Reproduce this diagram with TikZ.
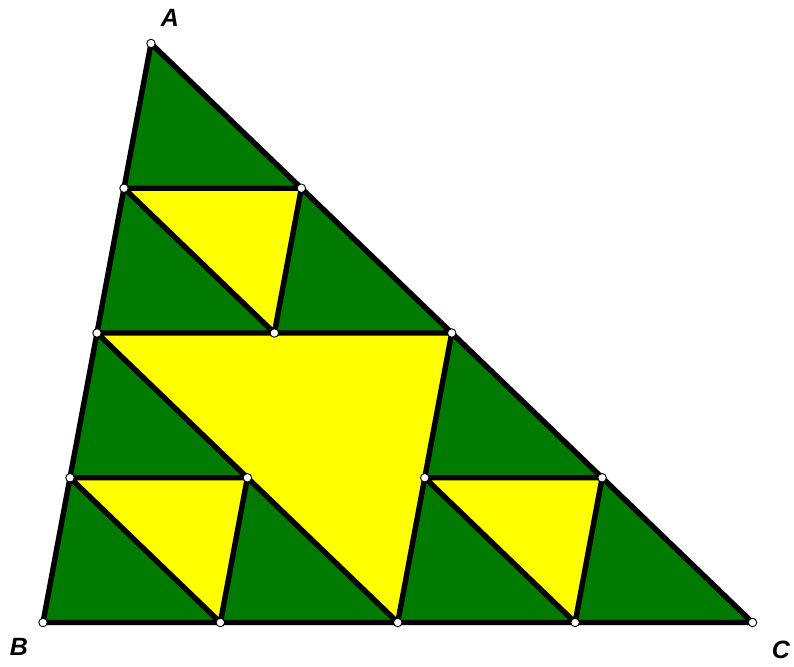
\documentclass[tikz,border=0pt]{standalone}
\usepackage{fontspec}
\setmainfont{Liberation Sans}
\usetikzlibrary{calc}
\definecolor{sgreen}{RGB}{0,122,0}
\definecolor{syellow}{RGB}{255,255,0}
\tikzset{
  edge/.style={line width=5.4pt, line join=round, line cap=round, black},
  greentri/.style={fill=sgreen},
  yellowtri/.style={fill=syellow},
  pt/.style={circle, draw=black, line width=0.9pt, fill=white, inner sep=0pt, minimum size=8.5pt},
  lbl/.style={font=\fontsize{25}{25}\selectfont\bfseries\itshape}
}
\begin{document}
\begin{tikzpicture}[x=1pt,y=-1pt]
\useasboundingbox (0,0) rectangle (794,666);
\coordinate (A) at (151,43.5);
\coordinate (B) at (43,622.5);
\coordinate (C) at (752.5,622.5);
\coordinate (ab1) at ($(A)!0.25!(B)$);
\coordinate (ab2) at ($(A)!0.5!(B)$);
\coordinate (ab3) at ($(A)!0.75!(B)$);
\coordinate (ac1) at ($(A)!0.25!(C)$);
\coordinate (ac2) at ($(A)!0.5!(C)$);
\coordinate (ac3) at ($(A)!0.75!(C)$);
\coordinate (bc1) at ($(B)!0.25!(C)$);
\coordinate (bc2) at ($(B)!0.5!(C)$);
\coordinate (bc3) at ($(B)!0.75!(C)$);
\coordinate (m1) at ($(ab2)!0.5!(ac2)$);
\coordinate (m2) at ($(ab2)!0.5!(bc2)$);
\coordinate (m3) at ($(ac2)!0.5!(bc2)$);
% fills
\fill[greentri] (A) -- (B) -- (C) -- cycle;
\fill[yellowtri] (ab2) -- (ac2) -- (bc2) -- cycle;
\fill[yellowtri] (ab1) -- (ac1) -- (m1) -- cycle;
\fill[yellowtri] (ab3) -- (m2) -- (bc1) -- cycle;
\fill[yellowtri] (m3) -- (ac3) -- (bc3) -- cycle;
% edges
\draw[edge] (A) -- (B) -- (C) -- cycle;
\draw[edge] (ab2) -- (ac2) -- (bc2) -- cycle;
\draw[edge] (ab1) -- (ac1) -- (m1) -- cycle;
\draw[edge] (ab3) -- (m2) -- (bc1) -- cycle;
\draw[edge] (m3) -- (ac3) -- (bc3) -- cycle;
% points
\foreach \p in {A,B,C,ab1,ab2,ab3,ac1,ac2,ac3,bc1,bc2,bc3,m1,m2,m3}
  \node[pt] (p\p) at (\p) {};
% labels
\node[lbl] (la) at (170,18) {A};
\node[lbl] (lb) at (19,647) {B};
\node[lbl] (lc) at (781,650) {C};
\end{tikzpicture}
\end{document}
